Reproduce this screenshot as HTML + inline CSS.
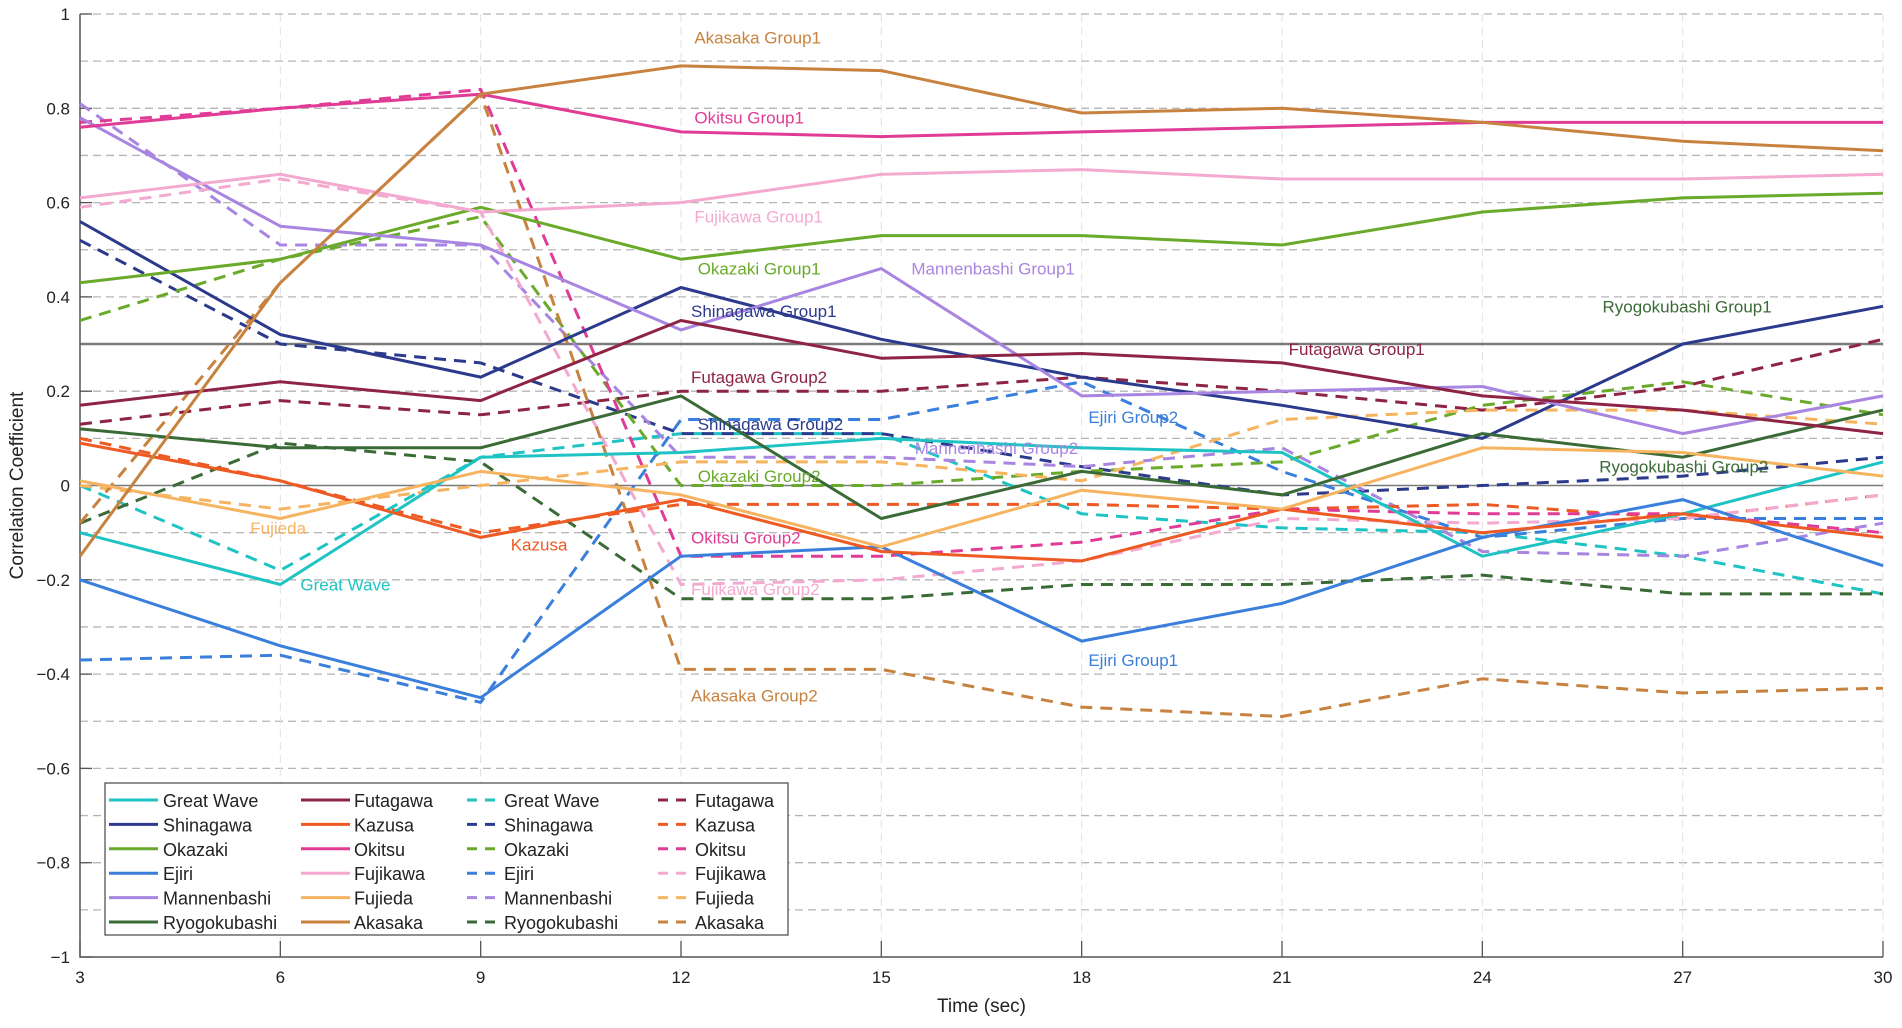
<!DOCTYPE html>
<html><head><meta charset="utf-8"><style>
html,body{margin:0;padding:0;background:#fff}
svg text{font-family:"Liberation Sans","Noto Sans CJK JP",sans-serif}
</style></head><body>
<svg id="chart" width="1902" height="1023" viewBox="0 0 1902 1023"></svg>
<script>
const times=[3,6,9,12,15,18,21,24,27,30];
const yTicks=[1,0.8,0.6,0.4,0.2,0,-0.2,-0.4,-0.6,-0.8,-1];
const yTickLabels=["1","0.8","0.6","0.4","0.2","0","\u22120.2","\u22120.4","\u22120.6","\u22120.8","\u22121"];
const xTickLabels=["3","6","9","12","15","18","21","24","27","30"];
const names=["Great Wave","Shinagawa","Okazaki","Ejiri","Mannenbashi","Ryogokubashi","Futagawa","Kazusa","Okitsu","Fujikawa","Fujieda","Akasaka"];
const colors=["#1fc3c3","#2b3a8c","#6aaa2a","#3a7fdc","#a885e0","#3a6b36","#8e2443","#ee5a24","#e03b95","#f4a9d0","#f6b461","#c8823f"];
const group1=[
[-0.10,-0.21,0.06,0.07,0.10,0.08,0.07,-0.15,-0.06,0.05],
[0.56,0.32,0.23,0.42,0.31,0.23,0.17,0.10,0.30,0.38],
[0.43,0.48,0.59,0.48,0.53,0.53,0.51,0.58,0.61,0.62],
[-0.20,-0.34,-0.45,-0.15,-0.13,-0.33,-0.25,-0.11,-0.03,-0.17],
[0.78,0.55,0.51,0.33,0.46,0.19,0.20,0.21,0.11,0.19],
[0.12,0.08,0.08,0.19,-0.07,0.03,-0.02,0.11,0.06,0.16],
[0.17,0.22,0.18,0.35,0.27,0.28,0.26,0.19,0.16,0.11],
[0.09,0.01,-0.11,-0.03,-0.14,-0.16,-0.05,-0.10,-0.06,-0.11],
[0.76,0.80,0.83,0.75,0.74,0.75,0.76,0.77,0.77,0.77],
[0.61,0.66,0.58,0.60,0.66,0.67,0.65,0.65,0.65,0.66],
[0.01,-0.07,0.03,-0.02,-0.13,-0.01,-0.05,0.08,0.07,0.02],
[-0.15,0.43,0.83,0.89,0.88,0.79,0.80,0.77,0.73,0.71]];
const group2=[
[0.00,-0.18,0.06,0.11,0.11,-0.06,-0.09,-0.10,-0.15,-0.23],
[0.52,0.30,0.26,0.11,0.11,0.04,-0.02,0.00,0.02,0.06],
[0.35,0.48,0.57,0.00,0.00,0.03,0.05,0.17,0.22,0.15],
[-0.37,-0.36,-0.46,0.14,0.14,0.22,0.03,-0.11,-0.07,-0.07],
[0.81,0.51,0.51,0.06,0.06,0.04,0.08,-0.14,-0.15,-0.08],
[-0.08,0.09,0.05,-0.24,-0.24,-0.21,-0.21,-0.19,-0.23,-0.23],
[0.13,0.18,0.15,0.20,0.20,0.23,0.20,0.16,0.21,0.31],
[0.10,0.01,-0.10,-0.04,-0.04,-0.04,-0.05,-0.04,-0.07,-0.02],
[0.77,0.80,0.84,-0.15,-0.15,-0.12,-0.05,-0.06,-0.06,-0.10],
[0.59,0.65,0.58,-0.21,-0.20,-0.16,-0.07,-0.08,-0.07,-0.02],
[0.00,-0.05,0.00,0.05,0.05,0.01,0.14,0.16,0.16,0.13],
[-0.08,0.43,0.83,-0.39,-0.39,-0.47,-0.49,-0.41,-0.44,-0.43]];
const annText=["Akasaka Group1","Okitsu Group1","Fujikawa Group1","Okazaki Group1","Mannenbashi Group1","Shinagawa Group1","Ryogokubashi Group1","Futagawa Group1","Futagawa Group2","Shinagawa Group2","Ejiri Group2","Mannenbashi Group2","Ryogokubashi Group2","Okazaki Group2","Fujieda","Kazusa","Okitsu Group2","Great Wave","Fujikawa Group2","Ejiri Group1","Akasaka Group2"];
const annX=[12.2,12.2,12.2,12.25,15.45,12.15,25.8,21.1,12.15,12.25,18.1,15.5,25.75,12.25,5.55,9.45,12.15,6.3,12.15,18.1,12.15];
const annY=[0.95,0.78,0.57,0.46,0.46,0.37,0.38,0.29,0.23,0.13,0.145,0.08,0.04,0.02,-0.09,-0.125,-0.11,-0.21,-0.22,-0.37,-0.445];
const annSeries=[11,8,9,2,4,1,5,6,6,1,3,4,5,2,10,7,8,0,9,3,11];

const L=80,R=1883,T=14,B=957;
const xs=t=>L+(t-3)/27*(R-L);
const ys=v=>T+(1-v)/2*(B-T);
const svg=document.getElementById('chart');
const NS="http://www.w3.org/2000/svg";
function mk(tag,attrs,parent){const e=document.createElementNS(NS,tag);for(const k in attrs)e.setAttribute(k,attrs[k]);(parent||svg).appendChild(e);return e;}

for(let i=0;i<=20;i++){const v=1-i*0.1;if(Math.abs(v)<1e-9||Math.abs(v-1)<1e-9||Math.abs(v+1)<1e-9)continue;
 const g=mk('line',{x1:L,x2:R,y1:ys(v),y2:ys(v),stroke:'#b5b5b5','stroke-width':1.3,'stroke-dasharray':'8,5'});
 }
times.forEach(t=>{if(t===3||t===30)return;
 const g=mk('line',{x1:xs(t),x2:xs(t),y1:T,y2:B,stroke:'#e2e2e2','stroke-width':1,'stroke-dasharray':'8,5'});
 });
mk('line',{x1:R,x2:R,y1:T,y2:B,stroke:'#e2e2e2','stroke-width':1,'stroke-dasharray':'8,5'});
mk('line',{x1:L,x2:R,y1:T,y2:T,stroke:'#b5b5b5','stroke-width':1.3,'stroke-dasharray':'8,5'});
const z=mk('line',{x1:L,x2:R,y1:ys(0),y2:ys(0),stroke:'#7a7a7a','stroke-width':1.5});

const th=mk('line',{x1:L,x2:R,y1:ys(0.3),y2:ys(0.3),stroke:'#7a7a7a','stroke-width':2.5});


const ax=mk('path',{d:`M${L},${T}V${B}H${R}`,fill:'none',stroke:'#555','stroke-width':1.5});

yTicks.forEach((v,i)=>{
 mk('line',{x1:L,x2:L+12,y1:ys(v),y2:ys(v),stroke:'#555','stroke-width':1.3});
 const t=mk('text',{x:L-10,y:ys(v)+6,'text-anchor':'end','font-size':17,fill:'#222'});t.textContent=yTickLabels[i];
 });
times.forEach((tt,i)=>{
 mk('line',{x1:xs(tt),x2:xs(tt),y1:B,y2:B-16,stroke:'#555','stroke-width':1.3});
 const t=mk('text',{x:xs(tt),y:B+26,'text-anchor':'middle','font-size':17,fill:'#222'});t.textContent=xTickLabels[i];
 });
const xl=mk('text',{x:(L+R)/2,y:1012,'text-anchor':'middle','font-size':19,fill:'#222'});xl.textContent='Time (sec)';

const yl=mk('text',{x:0,y:0,'text-anchor':'middle','font-size':19,fill:'#222',transform:`translate(23,${(T+B)/2}) rotate(-90)`});yl.textContent='Correlation Coefficient';


function drawSeries(vals,color,dashed){
 const d=vals.map((v,i)=>(i?'L':'M')+xs(times[i]).toFixed(1)+','+ys(v).toFixed(1)).join('');
 return mk('path',{d:d,fill:'none',stroke:color,'stroke-width':3,'stroke-linejoin':'round','stroke-dasharray':dashed?'12,8':'none'});}
group2.forEach((vals,i)=>{const p=drawSeries(vals,colors[i],true);
 
 });
group1.forEach((vals,i)=>{const p=drawSeries(vals,colors[i],false);
 
 });

annText.forEach((s,i)=>{const t=mk('text',{x:xs(annX[i]),y:ys(annY[i])+6,'font-size':17,fill:colors[annSeries[i]]});t.textContent=s;
 });

const lg=mk('g',{});

mk('rect',{x:105,y:783,width:683,height:152,fill:'#fff',stroke:'#555','stroke-width':1.3},lg);
const colLineX=[[109,158],[301,350],[467,500],[658,690]];
const colTextX=[163,354,504,695];
for(let c=0;c<4;c++){for(let r=0;r<6;r++){
 const idx=(c%2)*6+r;const dashed=c>=2;const y=800+r*24.4;
 const ln=mk('line',{x1:colLineX[c][0],x2:colLineX[c][1],y1:y,y2:y,stroke:colors[idx],'stroke-width':3,'stroke-dasharray':dashed?'10,8':'none'},lg);
 const t=mk('text',{x:colTextX[c],y:y+7,'font-size':18,fill:'#222'},lg);t.textContent=names[idx];
 }}
</script>
</body></html>
